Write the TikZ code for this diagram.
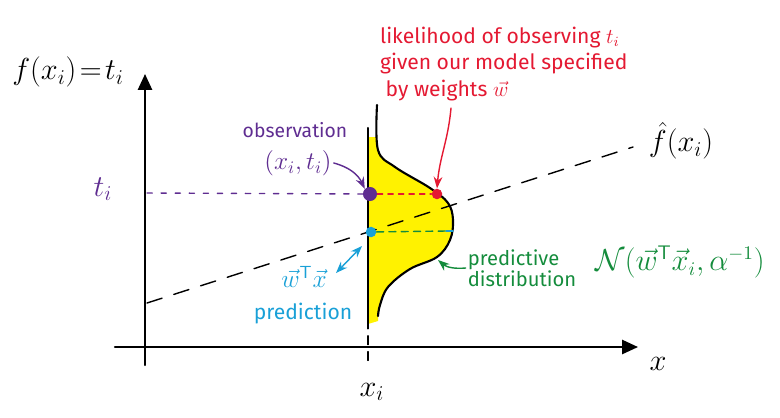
\documentclass[tikz,border=0pt]{standalone}
\usepackage{fontspec}
\setmainfont{Fira Sans}
\usetikzlibrary{arrows.meta}
\definecolor{obspurple}{RGB}{95,45,145}
\definecolor{likered}{RGB}{228,25,50}
\definecolor{predblue}{RGB}{25,160,215}
\definecolor{distgreen}{RGB}{20,140,60}
\tikzset{
  dot/.style={circle, fill=#1, inner sep=0pt, minimum size=7pt},
  note/.style={text=#1, inner sep=1pt, align=left},
  ax/.style={very thick, -{Triangle[width=8pt,length=9pt]}},
}
\begin{document}
\begin{tikzpicture}[x=0.02cm, y=-0.02cm, line join=round, line cap=round, >=Stealth]
  \useasboundingbox (0,0) rectangle (780,417);
  % axes
  \coordinate (xaxs) at (115,347); \coordinate (xaxe) at (638,347);
  \coordinate (yaxs) at (145,365); \coordinate (yaxe) at (145,74);
  \draw[ax] (xaxs) -- (xaxe);
  \draw[ax] (yaxs) -- (yaxe);
  \node (xlab) at (658,364) {\LARGE $x$};
  \node (flab) at (68,72) {\LARGE $f(x_i)\!=\!t_i$};
  % predictive distribution at x_i
  \fill[yellow] plot[smooth, tension=0.6] coordinates {(376,137) (379,153) (395,167) (430,188) (448,203) (453,220) (450,240) (437,257) (410,269) (388,287) (380,305) (378,321)} -- (368,324) -- (368,137) -- cycle;
  \draw[very thick] plot[smooth, tension=0.6] coordinates {(377,105) (378,150) (395,167) (430,188) (448,203) (453,220) (450,240) (437,257) (410,269) (388,287) (380,305) (378,316)};
  \coordinate (xtop) at (368,128); \coordinate (xbot) at (368,320); \coordinate (xi) at (368,362);
  \draw[very thick] (xtop) -- (xbot);
  \draw[thick, dash pattern=on 5pt off 4pt] (xbot) -- (xi);
  \node (xilab) at (372,392) {\LARGE $x_i$};
  % model line
  \coordinate (rs) at (147,303); \coordinate (re) at (633,147);
  \draw[thick, dash pattern=on 9pt off 7pt] (rs) -- (re);
  \node[inner sep=1pt] (fhat) at (681,141) {\LARGE $\hat f(x_i)$};
  % observation
  \node[dot=obspurple, minimum size=8pt] (obs) at (370,194) {};
  \node[text=obspurple] (tlab) at (103,189) {\LARGE $t_i$};
  \coordinate (tax) at (147,193);
  \draw[obspurple, thick, dash pattern=on 3pt off 5pt] (tax) -- (obs);
  \node[note=obspurple, font=\fontsize{11}{13}\selectfont] (obstext) at (295,130) {observation};
  \node[note=obspurple] (obspair) at (298,163) {\Large $(x_i,t_i)$};
  \draw[obspurple, thick, ->] (obspair.east) to[bend left=25] (obs.north west);
  % likelihood
  \node[dot=likered, minimum size=6pt] (lik) at (437,194) {};
  \draw[likered, thick, dash pattern=on 3pt off 3pt] (obs) -- (lik);
  \node[note=likered, anchor=north west, font=\large] (liktext) at (378,25) {likelihood of observing $t_i$\\[1pt] given our model specified\\[1pt] \ by weights $\vec w$};
  \coordinate (likfrom) at (451,108);
  \draw[likered, thick, ->] (likfrom) to[out=-95, in=85] (lik.north);
  % prediction
  \node[dot=predblue, minimum size=6pt] (pred) at (371,232) {};
  \coordinate (peak) at (446,231); \coordinate (peakb) at (453,231);
  \draw[distgreen, thick, dash pattern=on 4pt off 3pt] (pred) -- (peak);
  \draw[predblue, thick] (peak) -- (peakb);
  \node[note=predblue] (predvec) at (304,277) {\Large $\vec w^{\mathsf T}\vec x$};
  \node[note=predblue] (predtext) at (303,314) {\large prediction};
  \coordinate (pa) at (336,273); \coordinate (pb) at (362,246);
  \draw[predblue, thick, <->] (pa) -- (pb);
  % distribution label
  \node[note=distgreen, font=\fontsize{11.5}{12}\selectfont] (disttext) at (522,268) {predictive\\distribution};
  \coordinate (dgto) at (438,260);
  \draw[distgreen, thick, ->] (disttext.west) to[out=185, in=-40] (dgto);
  \node[text=distgreen, inner sep=1pt, font=\fontsize{16}{18}\selectfont] (normal) at (680,262) {$\mathcal N(\vec w^{\mathsf T}\vec x_i, \alpha^{-1})$};
\end{tikzpicture}
\end{document}
